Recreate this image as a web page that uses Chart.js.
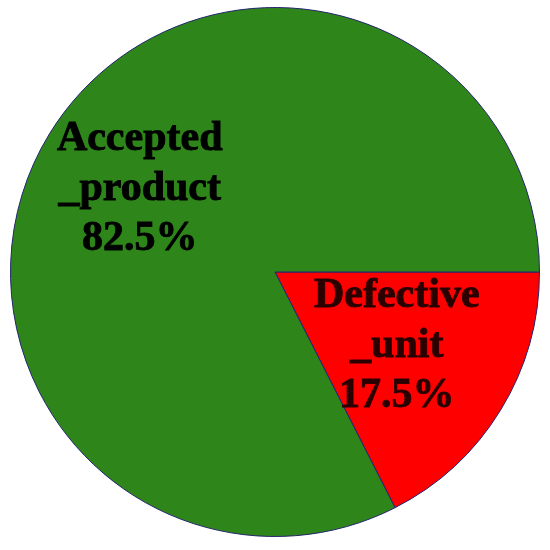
<!DOCTYPE html>
<html lang="en">
<head>
<meta charset="utf-8">
<title>Pie</title>
<script src="https://cdn.jsdelivr.net/npm/chart.js@4"></script>
<style>
  html, body { margin: 0; padding: 0; background: #fff; }
  .wrap { width: 550px; height: 550px; }
</style>
</head>
<body>
<div class="wrap"><canvas id="pie"></canvas></div>
<script>
// data
var labels = ['Defective_unit', 'Accepted_product'];
var labelLines = [['Defective', '_unit'], ['Accepted', '_product']];
var values = [17.5, 82.5];
var colors = ['#ff0000', '#2e861a'];
var textColors = ['#2a0000', '#000000'];
var labelDist = [0.54, 0.60];

// write the name and percentage inside each slice
var sliceLabels = {
  id: 'sliceLabels',
  afterDatasetsDraw: function(chart) {
    var ctx = chart.ctx;
    var meta = chart.getDatasetMeta(0);
    var data = chart.data.datasets[0].data;
    var total = data.reduce(function(a, b) { return a + b; }, 0);
    meta.data.forEach(function(arc, i) {
      var mid = (arc.startAngle + arc.endAngle) / 2;
      var r = arc.outerRadius * labelDist[i];
      var x = arc.x + Math.cos(mid) * r;
      var y = arc.y + Math.sin(mid) * r;
      var lines = labelLines[i].concat([(data[i] / total * 100).toFixed(1) + '%']);
      var lh = 50;
      ctx.save();
      ctx.font = 'bold 42px "Liberation Serif", "Times New Roman", serif';
      ctx.fillStyle = textColors[i];
      ctx.strokeStyle = textColors[i];
      ctx.lineWidth = 0.9;
      ctx.textAlign = 'center';
      ctx.textBaseline = 'middle';
      lines.forEach(function(t, k) {
        var ty = y + (k - (lines.length - 1) / 2) * lh;
        ctx.fillText(t, x, ty);
        ctx.strokeText(t, x, ty);
      });
      ctx.restore();
    });
  }
};

var ctx = document.getElementById('pie').getContext('2d');
var chart = new Chart(ctx, {
  type: 'pie',
  data: {
    labels: labels,
    datasets: [{
      data: values,
      backgroundColor: colors,
      borderColor: '#24246e',
      borderWidth: 1
    }]
  },
  options: {
    responsive: true,
    maintainAspectRatio: false,
    animation: false,
    rotation: 90,
    layout: { padding: { left: 10, right: 10, top: 7, bottom: 13 } },
    plugins: {
      legend: { display: false },
      tooltip: { enabled: false }
    }
  },
  plugins: [sliceLabels]
});
</script>
</body>
</html>
